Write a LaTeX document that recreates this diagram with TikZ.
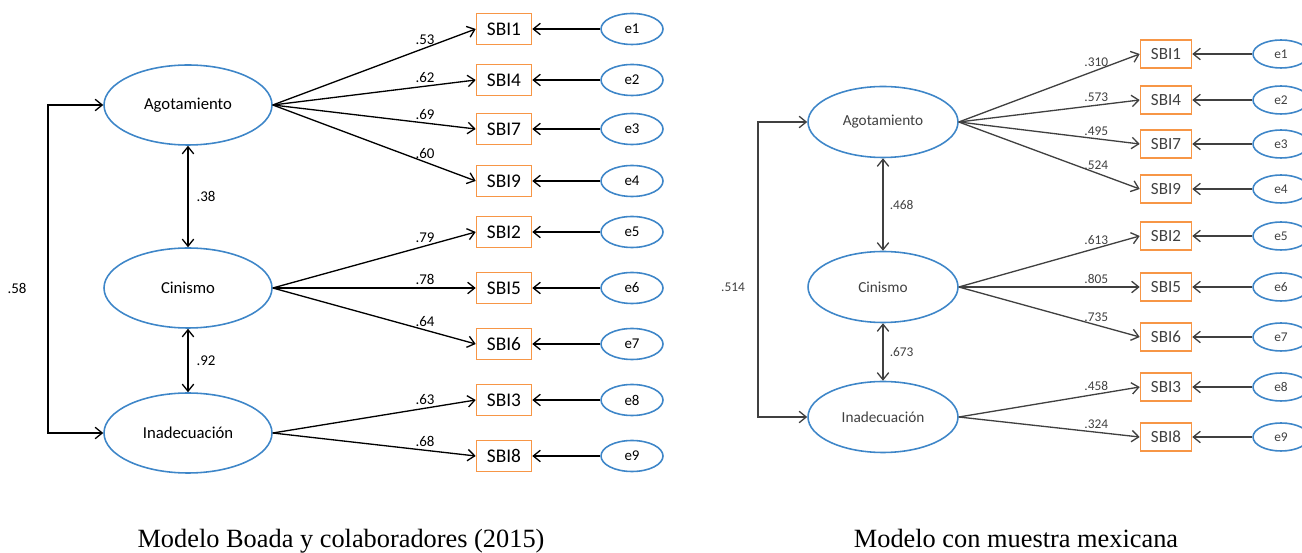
\documentclass[tikz,border=0pt]{standalone}
\usepackage{fontspec}
\setmainfont{Liberation Serif}
\newfontfamily\calib{Carlito}
\usetikzlibrary{positioning,arrows.meta,shapes.geometric}
\definecolor{latblue}{RGB}{62,134,200}
\definecolor{obsorange}{RGB}{247,150,70}
\definecolor{dgray}{RGB}{64,64,64}
\tikzset{
  tip/.tip={Straight Barb[length=4pt,width=6.5pt]},
  arr/.style={-tip,line width=0.75pt},
  dbl/.style={tip-tip,line width=0.75pt},
  latA/.style={ellipse,draw=latblue,line width=0.9pt,minimum width=3.36cm,minimum height=1.6cm,inner sep=0pt,font=\calib\fontsize{9.5}{11}\selectfont},
  obsA/.style={rectangle,draw=obsorange,line width=0.9pt,minimum width=1.1cm,minimum height=0.62cm,inner sep=0pt,font=\calib\fontsize{11}{13}\selectfont},
  errA/.style={ellipse,draw=latblue,line width=0.9pt,minimum width=1.24cm,minimum height=0.62cm,inner sep=0pt,font=\calib\fontsize{8.5}{10}\selectfont},
  lblA/.style={font=\calib\fontsize{8.5}{10}\selectfont,inner sep=1.5pt},
  latB/.style={latA,minimum width=3cm,minimum height=1.42cm,text=dgray,font=\calib\fontsize{8.7}{10}\selectfont},
  obsB/.style={obsA,minimum width=1.02cm,minimum height=0.56cm,text=dgray,font=\calib\fontsize{9.7}{11}\selectfont},
  errB/.style={errA,minimum width=1.12cm,minimum height=0.56cm,text=dgray,font=\calib\fontsize{7.6}{9}\selectfont},
  lblB/.style={lblA,text=dgray,font=\calib\fontsize{7.6}{9}\selectfont},
  caption/.style={anchor=base,font=\fontsize{15}{18}\selectfont}
}
\begin{document}
\begin{tikzpicture}[x=0.02cm,y=-0.02cm]
\clip (0,0) rectangle (1302,553);
% left model
\node[latA] (lagot) at (188,105) {Agotamiento};
\node[latA] (lcin) at (188,288) {Cinismo};
\node[latA] (linad) at (188,433) {Inadecuación};
\foreach \i/\yy/\ld/\f [count=\k] in {1/29/.53/lagot,4/80/.62/lagot,7/129/.69/lagot,9/181/.60/lagot,
    2/232/.79/lcin,5/288/.78/lcin,6/344/.64/lcin,3/400/.63/linad,8/456/.68/linad} {
  \node[obsA] (lsbi\i) at (504,\yy) {SBI\i};
  \node[errA] (le\k) at (632,\yy) {e\k};
  \draw[arr] (le\k) -- (lsbi\i);
  \draw[arr] (\f.east) -- (lsbi\i.west) node[pos=.75,above,lblA] {\ld};
}
\draw[dbl] (lagot.south) -- (lcin.north) node[midway,right=3pt,lblA] {.38};
\draw[dbl] (lcin.south) -- (linad.north) node[midway,right=3pt,lblA] {.92};
\coordinate (lcorner) at (48,105);
\draw[dbl] (lagot.west) -- (lcorner) |- (linad.west);
\node[lblA] (lcov) at (17,288) {.58};
\node[caption] (lcap) at (341,548) {Modelo Boada y colaboradores (2015)};
% right model
\node[latB] (ragot) at (883,122) {Agotamiento};
\node[latB] (rcin) at (883,287) {Cinismo};
\node[latB] (rinad) at (883,417) {Inadecuación};
\foreach \i/\yy/\ld/\f [count=\k] in {1/54/.310/ragot,4/100/.573/ragot,7/144/.495/ragot,9/189/.524/ragot,
    2/236/.613/rcin,5/287/.805/rcin,6/337/.735/rcin,3/387/.458/rinad,8/437/.324/rinad} {
  \node[obsB] (rsbi\i) at (1166,\yy) {SBI\i};
  \node[errB] (re\k) at (1281,\yy) {e\k};
  \draw[arr,dgray] (re\k) -- (rsbi\i);
  \draw[arr,dgray] (\f.east) -- (rsbi\i.west) node[pos=.76,above,lblB] {\ld};
}
\draw[dbl,dgray] (ragot.south) -- (rcin.north) node[midway,right=2pt,lblB] {.468};
\draw[dbl,dgray] (rcin.south) -- (rinad.north) node[midway,right=2pt,lblB] {.673};
\coordinate (rcorner) at (758,122);
\draw[dbl,dgray] (ragot.west) -- (rcorner) |- (rinad.west);
\node[lblB] (rcov) at (733,287) {.514};
\node[caption] (rcap) at (1016,548) {Modelo con muestra mexicana};
\end{tikzpicture}
\end{document}
